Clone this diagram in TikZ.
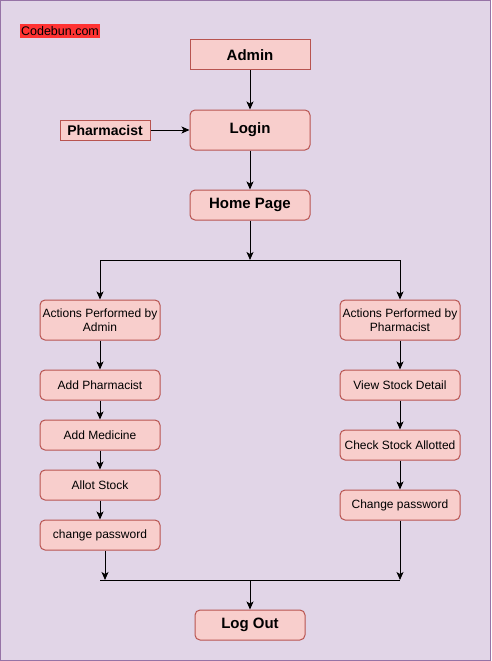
\documentclass[tikz,border=0pt]{standalone}
\usepackage{fontspec}
\setmainfont{Liberation Sans}
\usetikzlibrary{arrows.meta,positioning}
\definecolor{bgpurple}{HTML}{E1D5E7}
\definecolor{edgepurple}{HTML}{9673A6}
\definecolor{boxfill}{HTML}{F8CECC}
\definecolor{boxedge}{HTML}{B85450}
\definecolor{tagred}{HTML}{FF3333}
\tikzset{pin/.style={-{Stealth[length=8pt,width=7pt,inset=2pt]}, line width=1pt},
  blk/.style={draw=boxedge, fill=boxfill, line width=1pt, inner sep=0pt, align=center,
    minimum width=120pt, minimum height=30pt, font=\fontsize{12}{14}\selectfont},
  rblk/.style={blk, rounded corners=5pt},
  big/.style={font=\bfseries\fontsize{15}{18}\selectfont}}

\begin{document}
\begin{tikzpicture}[x=1pt, y=-1pt]
  \useasboundingbox (0,0) rectangle (491,661);
  \draw[edgepurple, fill=bgpurple, line width=1pt] (0.5,0.5) rectangle (490.5,660.5);
  \node[fill=tagred, inner sep=0pt, minimum width=80pt, minimum height=14pt,
    font=\fontsize{12.5}{14}\selectfont] (tag) at (60,31) {Codebun.com};
  % top: who logs in
  \node[blk, big] (admin) at (250,55) {Admin};
  \node[rblk, big, minimum height=40pt] (login) at (250,130) {Login};
  \node[blk, minimum width=90pt, minimum height=20pt, font=\bfseries\fontsize{14}{16}\selectfont] (pharm) at (105,130) {Pharmacist};
  \node[rblk, big] (home) at (250,205) {Home Page};
  \draw[pin] (admin) -- (login);
  \draw[pin] (pharm) -- (login);
  \draw[pin] (login) -- (home);
  % split to the two columns
  \coordinate (sp) at (250,260);
  \coordinate (spL) at (100,260);
  \coordinate (spR) at (400,260);
  \draw[pin] (home) -- (sp);
  \draw[line width=1pt] (spL) -- (spR);
  % admin column
  \node[rblk, minimum height=40pt] (actA) at (100,320) {Actions Performed by\\Admin};
  \node[rblk] (addPh) at (100,385) {Add Pharmacist};
  \node[rblk] (addMed) at (100,435) {Add Medicine};
  \node[rblk] (allot) at (100,485) {Allot Stock};
  \node[rblk] (cpA) at (100,535) {change password};
  \draw[pin] (spL) -- (actA);
  \draw[pin] (actA) -- (addPh);
  \draw[pin] (addPh) -- (addMed);
  \draw[pin] (addMed) -- (allot);
  \draw[pin] (allot) -- (cpA);
  % pharmacist column
  \node[rblk, minimum height=40pt] (actP) at (400,320) {Actions Performed by\\Pharmacist};
  \node[rblk] (view) at (400,385) {View Stock Detail};
  \node[rblk] (check) at (400,445) {Check Stock Allotted};
  \node[rblk] (cpP) at (400,505) {Change password};
  \draw[pin] (spR) -- (actP);
  \draw[pin] (actP) -- (view);
  \draw[pin] (view) -- (check);
  \draw[pin] (check) -- (cpP);
  % merge and log out
  \coordinate (mgL) at (100,580);
  \coordinate (mgA) at (105,580);
  \coordinate (mgR) at (400,580);
  \coordinate (mg) at (250,580);
  \node[rblk, big, minimum width=110pt] (logout) at (250,625) {Log Out};
  \draw[pin] ([xshift=5pt]cpA.south) -- (mgA);
  \draw[pin] (cpP) -- (mgR);
  \draw[line width=1pt] (mgL) -- (mgR);
  \draw[pin] (mg) -- (logout);
\end{tikzpicture}
\end{document}
